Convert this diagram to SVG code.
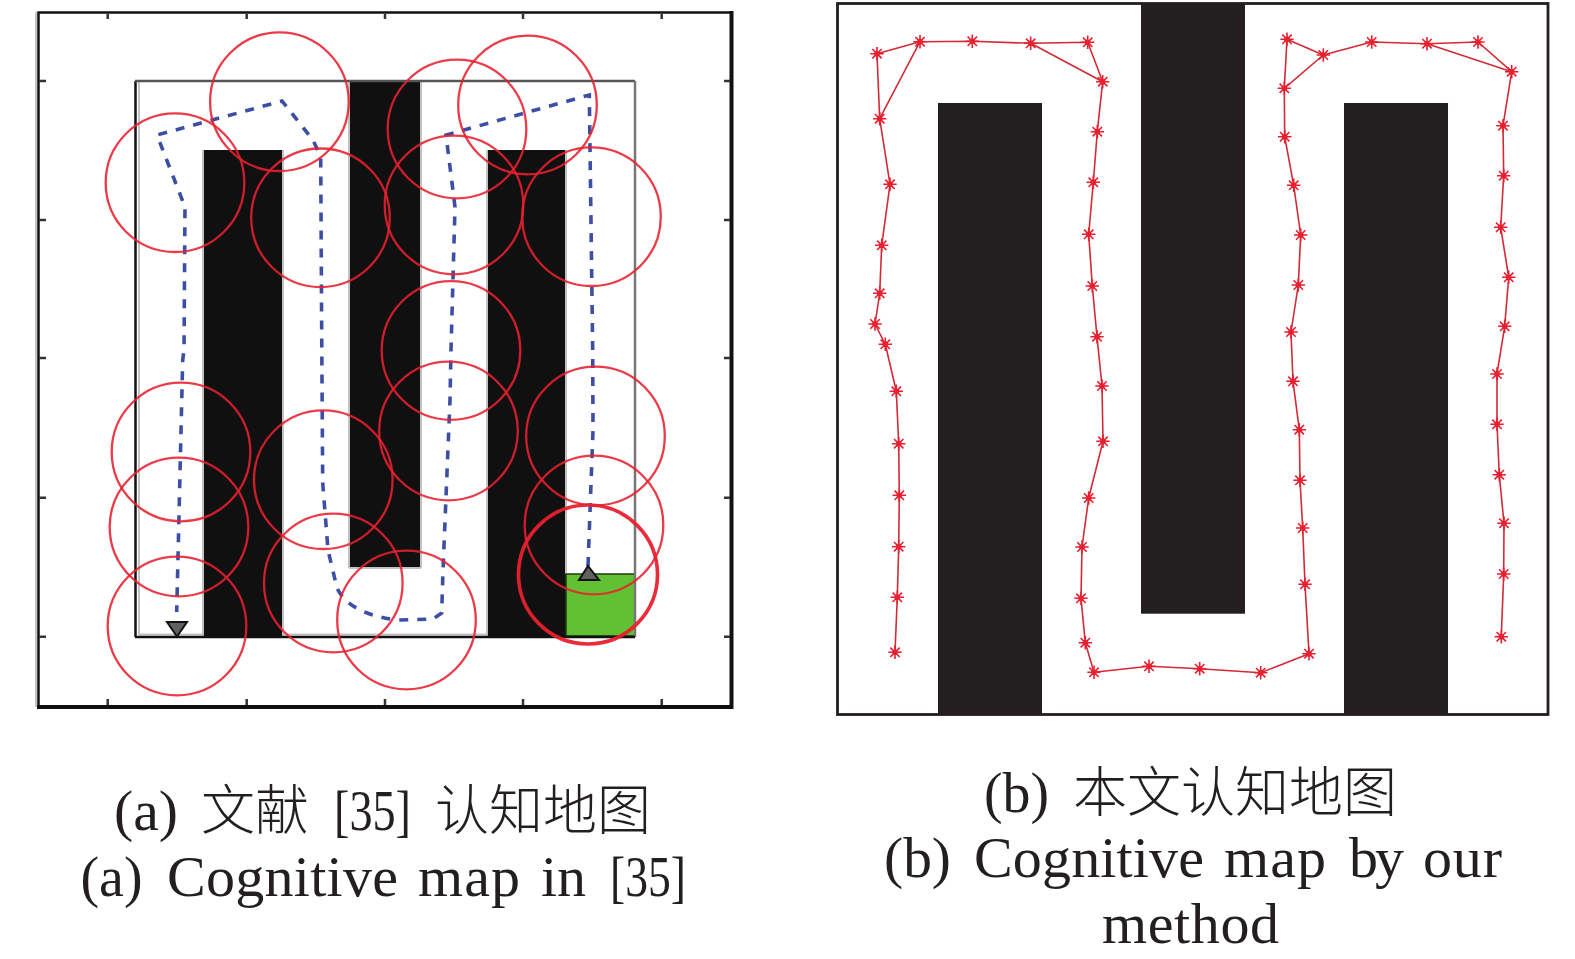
<svg xmlns="http://www.w3.org/2000/svg" width="1575" height="959" viewBox="0 0 1575 959">
<style>
.fr{fill:none;stroke:#111}
.tick{stroke:#333;stroke-width:2.5;fill:none}
.bar{fill:#101010}
.edge{stroke:#c2c2c2;stroke-width:2;fill:none}
.rf{fill:none;stroke:#e8202f;stroke-width:2.3;stroke-opacity:.88}
.rf2{fill:none;stroke:#e8202f;stroke-width:3.6;stroke-opacity:.95}
.dash{fill:none;stroke:#3c4fa5;stroke-width:3.6;stroke-dasharray:9 9}
.tri{fill:#606060;stroke:#111;stroke-width:2}
.bar2{fill:#231f20}
.chain{fill:none;stroke:#d42a35;stroke-width:1.6;stroke-linejoin:round}
.t{font-family:"Liberation Serif","Noto Sans CJK SC",serif;font-size:58px;fill:#231f20}
.c{font-family:"Noto Sans CJK SC","Liberation Serif",sans-serif;font-size:54px;font-weight:300;fill:#231f20}
</style>
<defs>
<g id="star" stroke="#e8202f" stroke-width="1.6" fill="none">
<path d="M-6.700 0H6.700M0-6.700V6.700M-4.700-4.700L4.700 4.700M-4.700 4.700L4.700-4.700"/>
<circle r="2.800" fill="#e8202f" stroke="none"/>
</g>
</defs>
<rect width="1575" height="959" fill="#fff"/>

<g id="panel-a">
<g id="maze-a">
<path class="edge" d="M139 82V635M139 634.500H203M283 634.500H487"/>
<rect class="bar" x="203.500" y="150" width="79" height="486"/>
<rect class="bar" x="349" y="81" width="72" height="487"/>
<rect class="bar" x="487.500" y="150" width="78.500" height="486"/>
<path class="edge" d="M203 150V636M283 150V636M349 81V568M421 81V568M349 568H421M487 150V636M566 150V574"/>
<rect x="566" y="574" width="69" height="62" fill="#62c132" stroke="#1f3b14" stroke-width="1.500"/>
<path d="M135.500 637V81" class="fr" stroke-width="2.500"/>
<path d="M135 81H635" stroke="#555" stroke-width="2.500" fill="none"/>
<path d="M635 81V637" stroke="#777" stroke-width="2.500" fill="none"/>
<path d="M135 637H635" class="fr" stroke-width="2.500"/>
</g>
<g id="frame-a">
<path d="M36 12V707" stroke="#c4c4c4" stroke-width="2" fill="none"/>
<path d="M38.500 706V12.500H731" class="fr" stroke-width="2.500"/>
<path d="M731.500 11V707H37" class="fr" stroke-width="4"/>
<path class="tick" d="M107.700 14V19M246.700 14V19M385 14V19M523 14V19M661.700 14V19M107.700 705V699M246.700 705V699M385 705V699M523 705V699M661.700 705V699M39 81H46M39 220H46M39 358H46M39 497.700H46M39 636.700H46M730 81H724M730 220H724M730 358H724M730 497.700H724M730 636.700H724"/>
</g>
<g id="connectors-a">
<path class="dash" d="M588 566L593 430L592.700 350L589.300 95L446 135L455 207L451 350L450 400L443 570L441.700 613L433 619L397 620C365 616 345 605 337 588L328 550L322.700 483L321.700 333L320.700 157L313 140L282 101L157 135L185 207L184 350L182.700 360L176.700 612"/>
</g>
<g id="triangle-end"><path class="tri" d="M167 622H187L177 636.500Z"/></g>
<g id="triangle-start"><path class="tri" d="M579 580H599L588 566Z"/></g>
<g id="circles-a">
<circle id="c1" class="rf" cx="175" cy="182.700" r="69.300"/>
<circle id="c2" class="rf" cx="279.400" cy="101.700" r="69.300"/>
<circle id="c3" class="rf" cx="320.500" cy="217.800" r="69.300"/>
<circle id="c4" class="rf" cx="457" cy="129" r="69.300"/>
<circle id="c5" class="rf" cx="527.500" cy="105" r="69.300"/>
<circle id="c6" class="rf" cx="454" cy="205" r="69.300"/>
<circle id="c7" class="rf" cx="591.500" cy="216.700" r="69.300"/>
<circle id="c8" class="rf" cx="451" cy="350.500" r="69.300"/>
<circle id="c9" class="rf" cx="448.500" cy="431" r="69.300"/>
<circle id="c10" class="rf" cx="595.500" cy="436" r="69.300"/>
<circle id="c11" class="rf" cx="594" cy="525" r="69.300"/>
<circle id="c12" class="rf2" cx="588" cy="574.500" r="69.500"/>
<circle id="c13" class="rf" cx="181" cy="452" r="69.300"/>
<circle id="c14" class="rf" cx="179" cy="527" r="69.300"/>
<circle id="c15" class="rf" cx="177" cy="626" r="69.300"/>
<circle id="c16" class="rf" cx="323.300" cy="479.700" r="69.300"/>
<circle id="c17" class="rf" cx="333.300" cy="583" r="69.300"/>
<circle id="c18" class="rf" cx="406.500" cy="620" r="69.300"/>
</g>
</g>

<g id="panel-b">
<g id="maze-b">
<rect class="bar2" x="938" y="103" width="104" height="611"/>
<rect class="bar2" x="1141" y="3" width="104" height="610.700"/>
<rect class="bar2" x="1344" y="103" width="104" height="611"/>
<rect x="837.500" y="3.500" width="710.500" height="711" fill="none" stroke="#231f20" stroke-width="2.800"/>
</g>
<g id="connectors-b">
<path class="chain" d="M895 652.300L897.300 597.300L898.700 546.700L899.300 495.300L898.700 443.700L896.300 391.300L885.300 344.300L875 324L879.700 293.300L881.700 245.300L890 184.300L879.700 118.700L877 53.700L920 41.700L879.700 118.700M920 41.700L972.300 41.300L1030.700 43.300L1087.700 42.300L1102.700 81.700L1030.700 43.300M1102.700 81.700L1097.300 131.700L1093.300 182.300L1088.700 234.300L1092.300 286L1097 336.700L1102 386L1103 441.300L1088.700 498L1082 547L1081 598.300L1085.300 642.700L1094 672.300L1149 666.300L1199.700 668.700L1260.700 672.700L1309 653.700L1305 584.300L1302.700 528L1300 480.300L1299.300 429.700L1293 381.300L1291 332L1298.300 285L1300.700 235L1293.700 185.300L1284.700 136.700L1284.300 88.300L1323.300 55L1287 39.300L1284.300 88.300M1323.300 55L1371.700 42L1427 43.700L1478 42L1511.700 71.700L1427 43.700M1511.700 71.700L1503 125.700L1503.700 175.700L1500.700 227.300L1508.700 277.300L1504.700 326.300L1497 374L1497 424.300L1499.300 474.700L1504 523.300L1503.700 574L1501.300 636.700"/>
</g>
<g id="stars-b">
<use href="#star" x="895" y="652.300"/><use href="#star" x="897.300" y="597.300"/><use href="#star" x="898.700" y="546.700"/><use href="#star" x="899.300" y="495.300"/><use href="#star" x="898.700" y="443.700"/><use href="#star" x="896.300" y="391.300"/><use href="#star" x="885.300" y="344.300"/><use href="#star" x="875" y="324"/><use href="#star" x="879.700" y="293.300"/><use href="#star" x="881.700" y="245.300"/><use href="#star" x="890" y="184.300"/><use href="#star" x="879.700" y="118.700"/><use href="#star" x="877" y="53.700"/><use href="#star" x="920" y="41.700"/><use href="#star" x="972.300" y="41.300"/><use href="#star" x="1030.700" y="43.300"/><use href="#star" x="1087.700" y="42.300"/><use href="#star" x="1102.700" y="81.700"/><use href="#star" x="1097.300" y="131.700"/><use href="#star" x="1093.300" y="182.300"/><use href="#star" x="1088.700" y="234.300"/><use href="#star" x="1092.300" y="286"/><use href="#star" x="1097" y="336.700"/><use href="#star" x="1102" y="386"/><use href="#star" x="1103" y="441.300"/><use href="#star" x="1088.700" y="498"/><use href="#star" x="1082" y="547"/><use href="#star" x="1081" y="598.300"/><use href="#star" x="1085.300" y="642.700"/><use href="#star" x="1094" y="672.300"/><use href="#star" x="1149" y="666.300"/><use href="#star" x="1199.700" y="668.700"/><use href="#star" x="1260.700" y="672.700"/><use href="#star" x="1309" y="653.700"/><use href="#star" x="1305" y="584.300"/><use href="#star" x="1302.700" y="528"/><use href="#star" x="1300" y="480.300"/><use href="#star" x="1299.300" y="429.700"/><use href="#star" x="1293" y="381.300"/><use href="#star" x="1291" y="332"/><use href="#star" x="1298.300" y="285"/><use href="#star" x="1300.700" y="235"/><use href="#star" x="1293.700" y="185.300"/><use href="#star" x="1284.700" y="136.700"/><use href="#star" x="1284.300" y="88.300"/><use href="#star" x="1323.300" y="55"/><use href="#star" x="1287" y="39.300"/><use href="#star" x="1371.700" y="42"/><use href="#star" x="1427" y="43.700"/><use href="#star" x="1478" y="42"/><use href="#star" x="1511.700" y="71.700"/><use href="#star" x="1503" y="125.700"/><use href="#star" x="1503.700" y="175.700"/><use href="#star" x="1500.700" y="227.300"/><use href="#star" x="1508.700" y="277.300"/><use href="#star" x="1504.700" y="326.300"/><use href="#star" x="1497" y="374"/><use href="#star" x="1497" y="424.300"/><use href="#star" x="1499.300" y="474.700"/><use href="#star" x="1504" y="523.300"/><use href="#star" x="1503.700" y="574"/><use href="#star" x="1501.300" y="636.700"/>
</g>
</g>

<g id="captions">
<text class="t" y="829.500"><tspan x="114" textLength="64" lengthAdjust="spacingAndGlyphs">(a)</tspan> <tspan class="c" x="201">文献</tspan> <tspan x="334" textLength="77" lengthAdjust="spacingAndGlyphs">[35]</tspan> <tspan class="c" x="435">认知地图</tspan></text>
<text class="t" y="896"><tspan x="80.500" textLength="62" lengthAdjust="spacingAndGlyphs">(a)</tspan> <tspan x="167" textLength="231" lengthAdjust="spacing">Cognitive</tspan> <tspan x="418" textLength="102" lengthAdjust="spacing">map</tspan> <tspan x="541" textLength="45" lengthAdjust="spacing">in</tspan> <tspan x="610" textLength="76" lengthAdjust="spacingAndGlyphs">[35]</tspan></text>
<text class="t" y="811.500"><tspan x="984" textLength="65" lengthAdjust="spacingAndGlyphs">(b)</tspan> <tspan class="c" x="1073">本文认知地图</tspan></text>
<text class="t" y="877"><tspan x="884" textLength="67" lengthAdjust="spacingAndGlyphs">(b)</tspan> <tspan x="974" textLength="230" lengthAdjust="spacing">Cognitive</tspan> <tspan x="1224" textLength="102" lengthAdjust="spacing">map</tspan> <tspan x="1349" textLength="55" lengthAdjust="spacing">by</tspan> <tspan x="1423" textLength="79" lengthAdjust="spacing">our</tspan></text>
<text class="t" y="943" x="1102" textLength="177" lengthAdjust="spacing">method</text>
</g>
</svg>
